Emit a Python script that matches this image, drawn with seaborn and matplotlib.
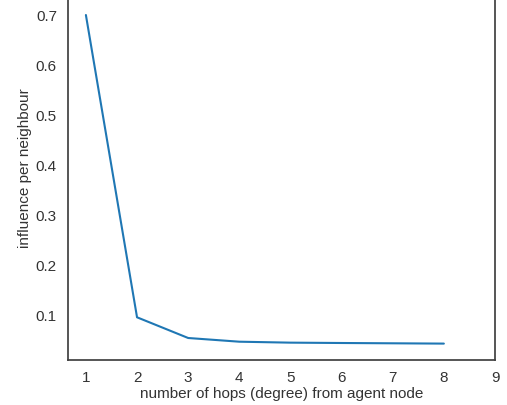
import matplotlib
matplotlib.use("Agg")
import matplotlib.pyplot as plt
import seaborn as sns
import pandas as pd

hops = [1, 2, 3, 4, 5, 6, 7, 8]
influence = [0.700, 0.0954, 0.054, 0.0466, 0.0447, 0.0440, 0.0434, 0.0428]
x_ticks = [1, 2, 3, 4, 5, 6, 7, 8, 9]
y_ticks = [0.1, 0.2, 0.3, 0.4, 0.5, 0.6, 0.7]

sns.set_style("white")
plt.rcParams['font.family'] = ['Liberation Sans', 'DejaVu Sans']

df = pd.DataFrame({"hops": hops, "influence": influence})

fig = plt.figure(figsize=(5.07, 4.06), dpi=100)
top_px = -25
ax = fig.add_axes([68/507, 1 - 361/406, (495-68)/507, (361 - top_px)/406])
sns.lineplot(data=df, x="hops", y="influence", ax=ax, color="#1f77b4", linewidth=1.5)
ax.set_xlim(0.65, 9.0)
ax.set_ylim(0.01, 0.7 + (16 - top_px)/500)
ax.set_xticks(x_ticks)
ax.set_yticks(y_ticks)
ax.set_xticklabels([str(v) for v in x_ticks])
ax.set_yticklabels([f"{v:.1f}" for v in y_ticks])
ax.tick_params(labelsize=11, colors="#333333", length=0)
ax.tick_params(axis="x", pad=7)
ax.tick_params(axis="y", pad=8)
ax.set_xlabel("number of hops (degree) from agent node", fontsize=11, color="#333333", labelpad=2)
ax.set_ylabel("influence per neighbour", fontsize=11, color="#333333", labelpad=3)
for s in ax.spines.values():
    s.set_color("#404040")
    s.set_linewidth(1.25)
fig.savefig("out.png", dpi=100)
